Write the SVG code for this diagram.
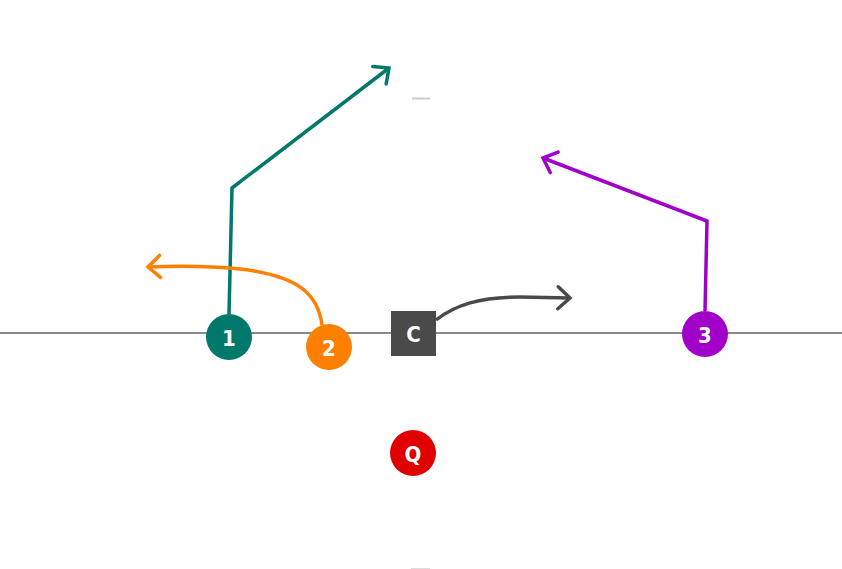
<svg xmlns="http://www.w3.org/2000/svg" width="842" height="569" viewBox="0 0 842 569">
<style>
.lbl{font-family:"DejaVu Sans Condensed","Liberation Sans Narrow","Liberation Sans",sans-serif;font-weight:bold;font-size:22px;fill:#fff;text-anchor:middle;dominant-baseline:central}
.route{fill:none;stroke-width:3.5;stroke-linejoin:miter}
</style>
<defs>
<marker id="aT" markerUnits="userSpaceOnUse" markerWidth="30" markerHeight="30" refX="15" refY="15" orient="auto" overflow="visible"><path d="M3,4 L15,15 L3,26" fill="none" stroke="#00786a" stroke-width="3.5" stroke-linecap="round"/></marker>
<marker id="aO" markerUnits="userSpaceOnUse" markerWidth="30" markerHeight="30" refX="15" refY="15" orient="auto" overflow="visible"><path d="M3,4 L15,15 L3,26" fill="none" stroke="#ff7f00" stroke-width="3.5" stroke-linecap="round"/></marker>
<marker id="aG" markerUnits="userSpaceOnUse" markerWidth="30" markerHeight="30" refX="15" refY="15" orient="auto" overflow="visible"><path d="M3,4 L15,15 L3,26" fill="none" stroke="#4a4a4a" stroke-width="3.5" stroke-linecap="round"/></marker>
<marker id="aP" markerUnits="userSpaceOnUse" markerWidth="30" markerHeight="30" refX="15" refY="15" orient="auto" overflow="visible"><path d="M3,4 L15,15 L3,26" fill="none" stroke="#a000c8" stroke-width="3.5" stroke-linecap="round"/></marker>
</defs>
<rect width="842" height="569" fill="#fff"/>
<line x1="0" y1="333" x2="842" y2="333" stroke="#888" stroke-width="2"/>
<line x1="412" y1="98.5" x2="430" y2="98.5" stroke="#ccc" stroke-width="2"/>
<line x1="411" y1="568.5" x2="430" y2="568.5" stroke="#ddd" stroke-width="1"/>
<g id="connectors">
<path class="route" stroke="#00786a" d="M229,314 L232,188 L389,68" marker-end="url(#aT)"/>
<path class="route" stroke="#ff7f00" d="M322,325 C318,295 300,276 240,269 C200,265 170,266 148,267" marker-end="url(#aO)"/>
<path class="route" stroke="#4a4a4a" d="M436,320 C455,305 480,297 520,297 L570,298" marker-end="url(#aG)"/>
<path class="route" stroke="#a000c8" d="M705,311 L707,221 L543,158" marker-end="url(#aP)"/>
</g>
<g id="p1"><circle cx="229" cy="337" r="23" fill="#00786a"/><text class="lbl" x="229" y="338">1</text></g>
<g id="p2"><circle cx="329" cy="347" r="23" fill="#ff7f00"/><text class="lbl" x="329" y="348">2</text></g>
<g id="pC"><rect x="391" y="311" width="45" height="45" fill="#4a4a4a"/><text class="lbl" x="413.5" y="334">C</text></g>
<g id="p3"><circle cx="705" cy="334" r="23" fill="#a000c8"/><text class="lbl" x="705" y="335">3</text></g>
<g id="pQ"><circle cx="413" cy="453" r="23" fill="#e00000"/><text class="lbl" x="413" y="454">Q</text></g>
</svg>
